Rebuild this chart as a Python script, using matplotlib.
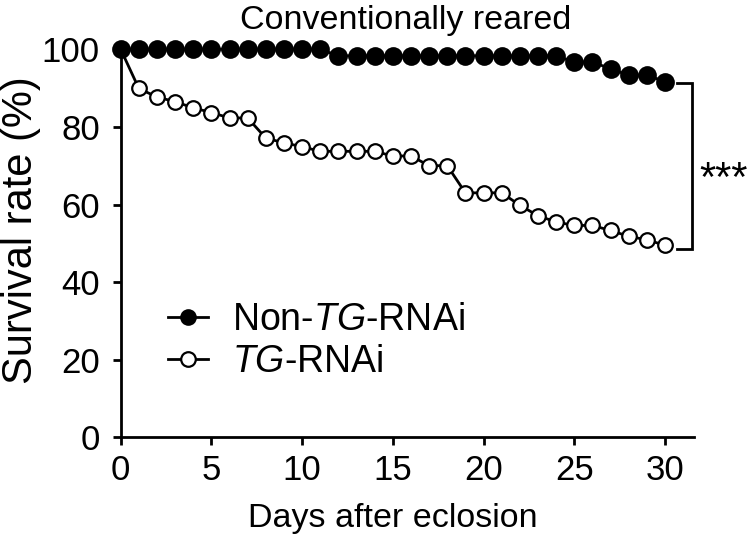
import matplotlib
matplotlib.use("Agg")
import matplotlib.pyplot as plt
from matplotlib.lines import Line2D

plt.rcParams['font.family'] = ['Liberation Sans', 'DejaVu Sans']
plt.rcParams['mathtext.fontset'] = 'custom'
plt.rcParams['mathtext.rm'] = 'Liberation Sans'
plt.rcParams['mathtext.it'] = 'Liberation Sans:italic'

days = list(range(0, 31))
non_tg = [100, 100, 100, 100, 100, 100, 100, 100, 100, 100, 100, 100,
          98.3, 98.3, 98.3, 98.3, 98.3, 98.3, 98.3, 98.3, 98.3, 98.3, 98.3, 98.3, 98.3,
          96.7, 96.7, 95.0, 93.3, 93.3, 91.7]
tg = [100, 89.9, 87.7, 86.5, 84.9, 83.7, 82.3, 82.3, 77.1, 75.9, 74.9, 73.7,
      73.7, 73.7, 73.7, 72.5, 72.5, 70.0, 70.0, 63.0, 63.0, 63.0, 59.8, 57.1,
      55.5, 54.6, 54.6, 53.3, 51.8, 50.9, 49.5]
labels = ['Non-$\\it{TG}$-RNAi', '$\\it{TG}$-RNAi']
title = 'Conventionally reared'
xlabel = 'Days after eclosion'
ylabel = 'Survival rate (%)'
xticks = [0, 5, 10, 15, 20, 25, 30]
yticks = [0, 20, 40, 60, 80, 100]

W, H = 750, 542
fig = plt.figure(figsize=(7.5, 5.42), dpi=100)
ax = fig.add_axes([120.7 / W, 104.7 / H, 573.3 / W, 388 / H])

lw = 2.0
ax.plot(days, tg, color='black', lw=lw, marker='o', ms=10.5, mfc='white',
        mec='black', mew=1.6, clip_on=False, zorder=3)
ax.plot(days, non_tg, color='black', lw=lw, marker='o', ms=13.5, mfc='black',
        mec='black', mew=0, clip_on=False, zorder=4)

ax.set_xlim(0, 31.6)
ax.set_ylim(0, 100)
ax.set_xticks(xticks)
ax.set_yticks(yticks)
ax.tick_params(axis='both', direction='out', length=6, width=2, labelsize=25)
ax.tick_params(axis='x', pad=6)
ax.tick_params(axis='y', pad=9)
for s in ['top', 'right']:
    ax.spines[s].set_visible(False)
for s in ['left', 'bottom']:
    ax.spines[s].set_linewidth(2)

# significance bracket
bx0, bx1 = 30.67, 31.48
ytop, ybot = non_tg[-1] - 0.3, tg[-1] - 1.0
ax.plot([bx0, bx1, bx1, bx0], [ytop, ytop, ybot, ybot], color='black', lw=2,
        clip_on=False, solid_joinstyle='miter')
ax.text(31.9, 63.6, '***', fontsize=30, ha='left', va='baseline', clip_on=False)

handles = [Line2D([], [], color='black', lw=lw, marker='o', ms=12.0, mfc='black', mec='black', mew=0),
           Line2D([], [], color='black', lw=lw, marker='o', ms=10.5, mfc='white', mec='black', mew=1.6)]
ax.legend(handles, labels, loc='center left', bbox_to_anchor=(0.0825, 0.248),
          frameon=False, fontsize=27, handlelength=1.07, handletextpad=0.64,
          labelspacing=0.15, borderpad=0, borderaxespad=0)

fig.text(406 / W, (H - 29.5) / H, title, fontsize=24.5, ha='center', va='baseline')
fig.text(392.5 / W, 15.5 / H, xlabel, fontsize=24.5, ha='center', va='baseline')
fig.text(32 / W, (H - 230.5) / H, ylabel, fontsize=30, ha='center', va='baseline',
         rotation=90, rotation_mode='anchor')

fig.savefig('out.png', dpi=100)
